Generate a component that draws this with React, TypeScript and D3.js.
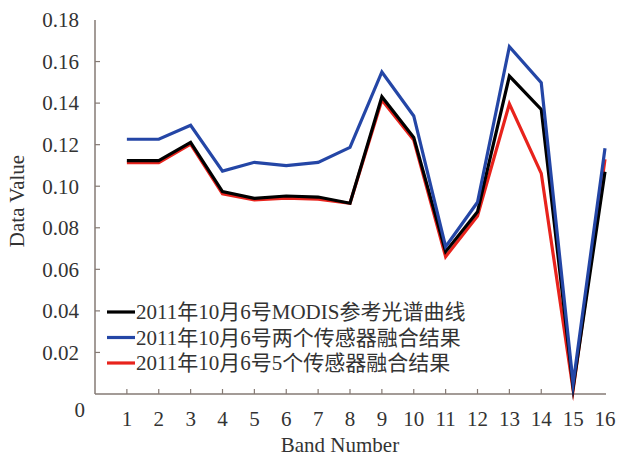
import React from "react";
import * as d3 from "d3";

const bands = [1, 2, 3, 4, 5, 6, 7, 8, 9, 10, 11, 12, 13, 14, 15, 16];
const modisRef = [0.1123, 0.1123, 0.1211, 0.0974, 0.0942, 0.0953, 0.0948, 0.0918, 0.1431, 0.1235, 0.0685, 0.0877, 0.153, 0.137, 0.003, 0.107];
const twoSensor = [0.1226, 0.1226, 0.1293, 0.1073, 0.1115, 0.1099, 0.1115, 0.1187, 0.155, 0.1338, 0.0709, 0.0923, 0.1672, 0.1498, 0.005, 0.1183];
const fiveSensor = [0.1113, 0.1113, 0.1203, 0.0963, 0.0934, 0.0943, 0.0938, 0.0918, 0.1415, 0.1222, 0.0661, 0.0857, 0.1396, 0.1062, 0.002, 0.113];
const yTicks = [0.02, 0.04, 0.06, 0.08, 0.1, 0.12, 0.14, 0.16, 0.18];
const yTickLabels = ["0.02", "0.04", "0.06", "0.08", "0.10", "0.12", "0.14", "0.16", "0.18"];
const legendLabels = [
  "2011年10月6号MODIS参考光谱曲线",
  "2011年10月6号两个传感器融合结果",
  "2011年10月6号5个传感器融合结果",
];
const colors = ["#000000", "#2446a6", "#e8231c"];

export default function App() {
  const W = 619, H = 456;
  const x = d3.scaleLinear().domain([0, 16]).range([95, 605]);
  const y = d3.scaleLinear().domain([0, 0.18]).range([394, 20]);
  const line = d3
    .line<number>()
    .x((_, i) => x(bands[i]))
    .y((v) => y(v));
  const axisColor = "#857a74";
  const font = "'Liberation Serif', 'Times New Roman', 'Noto Sans CJK SC', serif";
  const textColor = "#333";
  const series = [modisRef, twoSensor, fiveSensor];
  const drawOrder = [2, 0, 1];
  return (
    <svg width={W} height={H} style={{ position: "absolute", left: 0, top: 0, background: "#fff" }} fontFamily={font}>
      <rect width={W} height={H} fill="#fff" />
      <line x1={x(0)} x2={x(0)} y1={y(0.18)} y2={y(0)} stroke={axisColor} strokeWidth={1.5} />
      <line x1={x(0)} x2={x(16) + 1} y1={y(0)} y2={y(0)} stroke={axisColor} strokeWidth={1.5} />
      {yTicks.map((t, i) => (
        <g key={"yt" + i}>
          {t < 0.18 && <line x1={x(0)} x2={x(0) + 5} y1={y(t)} y2={y(t)} stroke={axisColor} strokeWidth={1.2} />}
          <text x={79} y={y(t)} dy="0.35em" textAnchor="end" fontSize={21} fill={textColor}>
            {yTickLabels[i]}
          </text>
        </g>
      ))}
      <text x={85} y={410} dy="0.35em" textAnchor="end" fontSize={21} fill={textColor}>0</text>
      {bands.map((b) => (
        <g key={"xt" + b}>
          {b < 16 && <line x1={x(b)} x2={x(b)} y1={y(0)} y2={y(0) - 5} stroke={axisColor} strokeWidth={1.2} />}
          <text x={x(b)} y={426} textAnchor="middle" fontSize={21} fill={textColor}>{b}</text>
        </g>
      ))}
      <text x={340} y={452} textAnchor="middle" fontSize={21} fill={textColor}>Band Number</text>
      <text transform={`translate(24, 201) rotate(-90)`} textAnchor="middle" fontSize={21} fill={textColor}>Data Value</text>
      {drawOrder.map((si) => (
        <path key={"s" + si} d={line(series[si]) || ""} fill="none" stroke={colors[si]} strokeWidth={3.2} strokeLinejoin="miter" strokeMiterlimit={20} />
      ))}
      {legendLabels.map((lab, i) => (
        <g key={"lg" + i}>
          <line x1={107} x2={135} y1={312 + i * 25.5} y2={312 + i * 25.5} stroke={colors[i]} strokeWidth={3.2} />
          <text x={136} y={312 + i * 25.5} dy="0.35em" fontSize={21} fill={textColor}>{lab}</text>
        </g>
      ))}
    </svg>
  );
}
